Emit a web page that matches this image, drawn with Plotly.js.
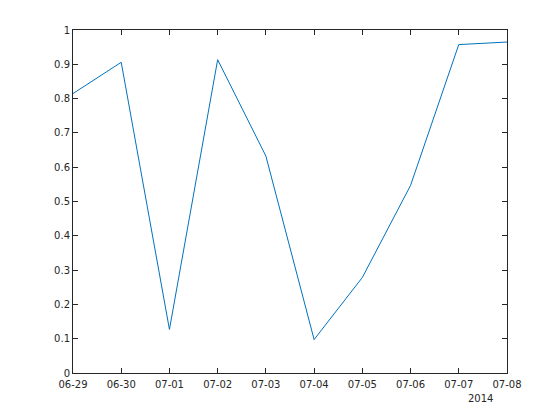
<!DOCTYPE html>
<html>
<head>
<meta charset="utf-8">
<script src="https://cdn.plot.ly/plotly-3.0.1.min.js"></script>
<style>html,body{margin:0;padding:0;background:#fff;}#chart{width:560px;height:420px;}</style>
</head>
<body>
<div id="chart"></div>
<script>
const dates = ['2014-06-29','2014-06-30','2014-07-01','2014-07-02','2014-07-03','2014-07-04','2014-07-05','2014-07-06','2014-07-07','2014-07-08'];
const values = [0.8147, 0.9058, 0.1270, 0.9134, 0.6324, 0.0975, 0.2785, 0.5469, 0.9575, 0.9649];
const yearLabel = '2014';

const axisCommon = {
  showline: true, linecolor: '#262626', linewidth: 1, mirror: 'ticks',
  ticks: 'inside', ticklen: 5, tickcolor: '#262626', tickwidth: 1,
  showgrid: false, zeroline: false,
  tickfont: {family: 'DejaVu Sans, sans-serif', size: 10, color: '#262626'}
};

const trace = {
  x: dates, y: values, type: 'scatter', mode: 'lines',
  line: {color: '#0072BD', width: 1}, hoverinfo: 'none'
};

const layout = {
  width: 560, height: 420,
  margin: {l: 73, r: 53, t: 30, b: 47},
  paper_bgcolor: '#ffffff', plot_bgcolor: '#ffffff',
  showlegend: false,
  xaxis: Object.assign({}, axisCommon, {
    type: 'date', range: [dates[0], dates[dates.length-1]],
    dtick: 86400000, tick0: dates[0], tickformat: '%m-%d',
    ticklabelstandoff: 2
  }),
  yaxis: Object.assign({}, axisCommon, {
    range: [0, 1], dtick: 0.1, tick0: 0
  }),
  annotations: [{
    text: yearLabel, xref: 'paper', yref: 'paper', x: 0.938, y: -0.074,
    xanchor: 'center', yanchor: 'middle', showarrow: false,
    font: {family: 'DejaVu Sans, sans-serif', size: 10, color: '#262626'}
  }]
};

Plotly.newPlot('chart', [trace], layout, {displayModeBar: false, staticPlot: true});
</script>
</body>
</html>
